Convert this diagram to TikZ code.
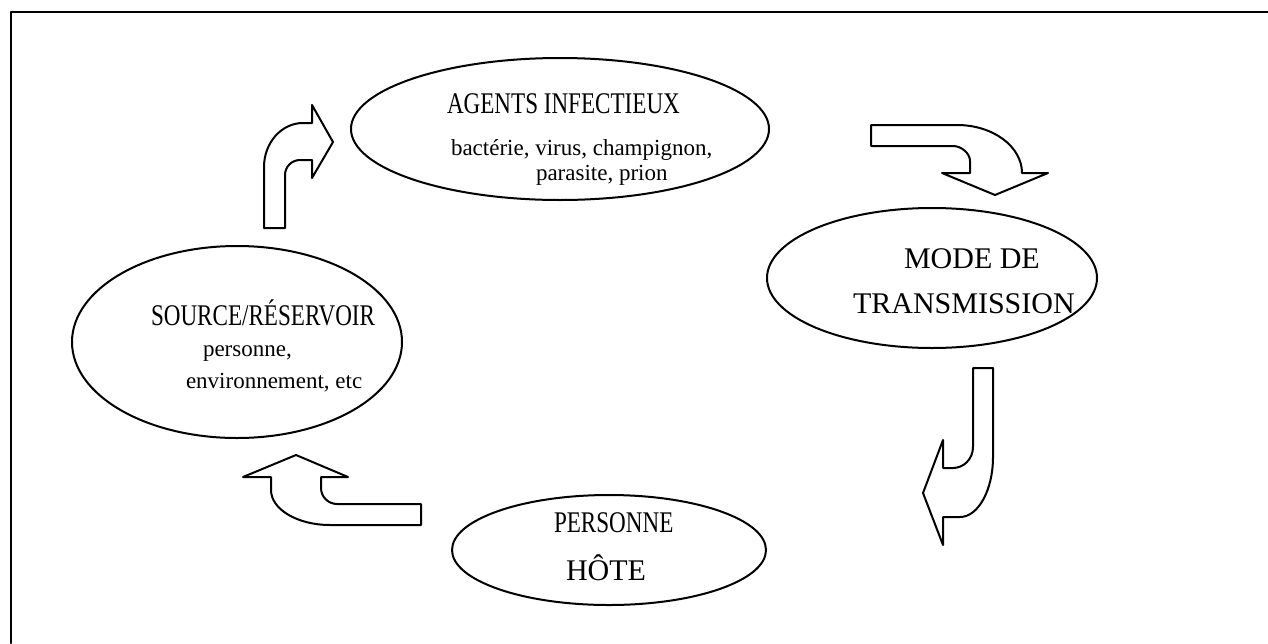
\documentclass[tikz,border=0pt]{standalone}
\usepackage{fontspec}
\setmainfont{Liberation Serif}
\newfontfamily\narrowserif[FakeStretch=0.77]{Liberation Serif}
\begin{document}
\begin{tikzpicture}[x=0.5pt,y=-0.5pt,line join=round,line cap=round,line width=1pt,
  bigtext/.style={font=\fontsize{15}{18}\selectfont,anchor=base west,inner sep=0pt},
  widetext/.style={font=\narrowserif\fontsize{15}{18}\selectfont,anchor=base west,inner sep=0pt},
  smalltext/.style={font=\fontsize{11.5}{14}\selectfont,anchor=base west,inner sep=0pt}]
			\useasboundingbox (0,0) rectangle (1268,643);
			% frame
			\draw
			(11,643)--(11,12)--(1268,12)
			;
			% the four ellipses
			\draw
			(560,129) ellipse ({209} and {71})
			(932,278) ellipse ({165} and {70})
			(237,342) ellipse ({165} and {96})
			(609,550) ellipse ({157} and {55})
			;
			% block arrows
			\draw
			(264,228)--(264,167) .. controls (264,142.7) and (281.5,123) .. (303,123)
			--(312,123)--(312,105)--(333,142)--(312,178)--(312,160)--(300,160)
			.. controls (291.7,160) and (285,166.7) .. (285,175)--(285,228)--cycle
			(871,125)--(957,125) .. controls (992.9,125) and (1022,146.5) .. (1022,173)
			--(1048,173)--(995,195)--(942,173)--(970,173)--(970,161)
			.. controls (970,153.3) and (961.3,146) .. (953,146)--(871,146)--cycle
			(973,368)--(993,368)--(993,457) .. controls (993,490) and (978.2,517) .. (960,517)
			--(943,517)--(943,545)--(923,493)--(943,440)--(943,468)--(953,468)
			.. controls (964,468) and (973,458.6) .. (973,447)--cycle
			(421,504)--(337,504) .. controls (328.2,504) and (321,496.8) .. (321,488)
			--(321,477)--(348,477)--(296,455)--(243,477)--(271,477)--(271,490)
			.. controls (271,509.3) and (297.4,525) .. (330,525)--(421,525)--cycle
			;
			% texts
			\node[widetext] (agents) at (446,113) {AGENTS INFECTIEUX};
			\node[smalltext] (agentsa) at (450,155) {bactérie, virus, champignon,};
			\node[smalltext] (agentsb) at (535,180) {parasite, prion};
			\node[bigtext] (modea) at (903,268) {MODE DE};
			\node[bigtext] (modeb) at (852,313) {TRANSMISSION};
			\node[widetext] (source) at (150,325) {SOURCE/RÉSERVOIR};
			\node[smalltext] (sourcea) at (202,356) {personne,};
			\node[smalltext] (sourceb) at (185,388) {environnement, etc};
			\node[widetext] (hotea) at (553,532) {PERSONNE};
			\node[bigtext] (hoteb) at (565,580) {HÔTE};
		\end{tikzpicture}
\end{document}
